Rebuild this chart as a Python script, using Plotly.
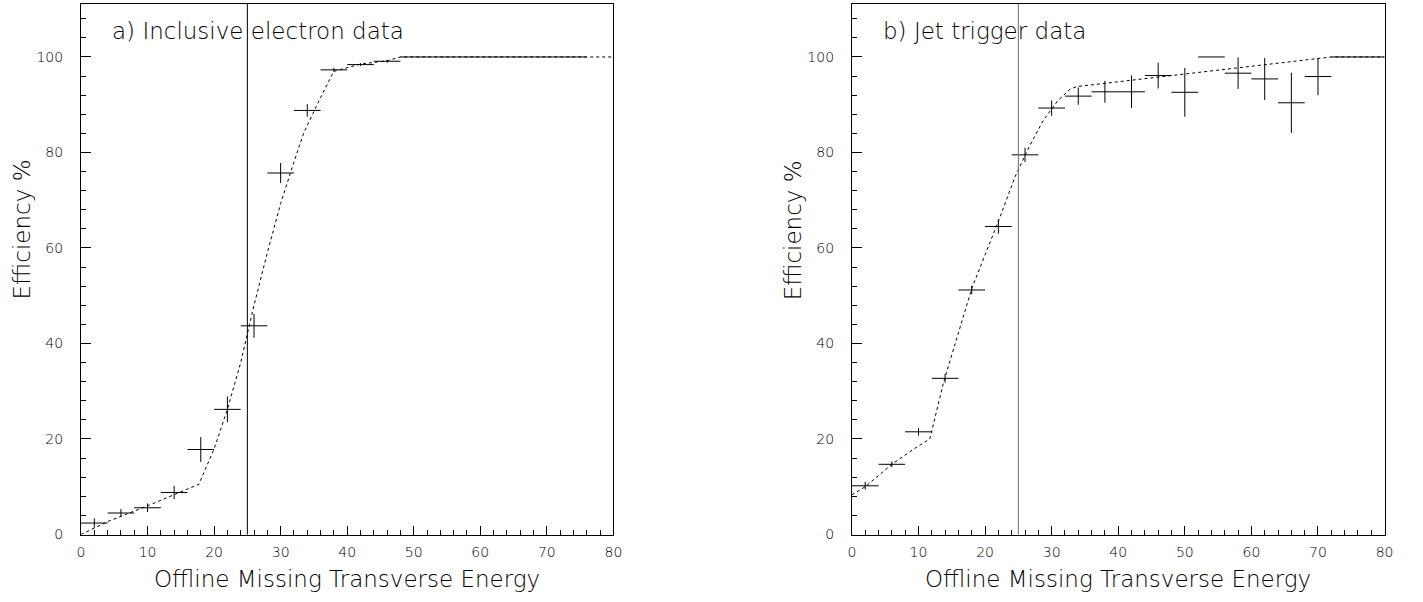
import plotly.graph_objects as go

# ---- data: trigger efficiency vs offline missing ET ----
# (a) inclusive electron sample: bin centres, efficiency (%), stat. error
ele_x = [2, 6, 10, 14, 18, 22, 26, 30, 34, 38, 42, 46, 50, 54, 58, 62, 66, 70, 74]
ele_eff = [2.4, 4.5, 5.6, 8.8, 17.8, 26.2, 43.7, 75.7, 88.8, 97.3, 98.4, 99.1,
           100, 100, 100, 100, 100, 100, 100]
ele_err = [1.0, 0.8, 0.9, 1.4, 2.6, 2.7, 2.5, 2.1, 1.3, 0.4, 0.3, 0.3,
           0, 0, 0, 0, 0, 0, 0]

# (b) jet trigger sample
jet_x = [2, 6, 10, 14, 18, 22, 26, 30, 34, 38, 42, 46, 50, 54, 58, 62, 66, 70, 74, 78]
jet_eff = [10.2, 14.7, 21.5, 32.7, 51.2, 64.5, 79.5, 89.3, 91.8, 92.7, 92.7, 96.1,
           92.6, 100, 96.6, 95.4, 90.4, 95.9, 100, 100]
jet_err = [0.8, 0.6, 0.8, 0.9, 0.9, 1.5, 1.5, 1.6, 1.8, 2.3, 3.4, 2.7,
           5.1, 0, 3.3, 4.4, 6.3, 3.9, 0, 0]

BIN_HALF_WIDTH = 2.0

# parametrised turn-on curves (dashed)
ele_fit_x = [0, 4, 10, 14, 17.7, 20, 22, 24, 26, 28, 30, 32, 33.5, 36, 38, 42, 46, 48, 80]
ele_fit_y = [0, 2.7, 6.0, 8.4, 10.5, 17.9, 26.2, 36, 48, 59, 69.3, 78, 84.2, 91.5,
             97, 98.5, 99.2, 100, 100]
jet_fit_x = [0, 2, 6, 9.5, 11.7, 13.8, 18, 22.2, 24.5, 26.7, 28.7, 30.9, 32.8, 33.8, 72, 80]
jet_fit_y = [8.3, 10, 14.7, 18.1, 20, 32, 51.5, 66.3, 74.9, 81.4, 86.6, 90.8, 93.3,
             93.8, 100, 100]

THRESHOLD = 25  # offline missing ET cut

panel_labels = ["a) Inclusive electron data", "b) Jet trigger data"]
x_title = "Offline Missing Transverse Energy"
y_title = "Efficiency %"
x_ticks = list(range(0, 81, 10))
y_ticks = list(range(0, 101, 20))

# ---- layout geometry (pixels) ----
W, H = 1423, 602
FONT = "DejaVu Sans, sans-serif"
TEXT_WEIGHT = 200

panels = [
    dict(x0=77.7, x1=615.0, xs=ele_x, ys=ele_eff, es=ele_err,
         fx=ele_fit_x, fy=ele_fit_y, label=panel_labels[0], cut_color="black"),
    dict(x0=855.7, x1=1393.3, xs=jet_x, ys=jet_eff, es=jet_err,
         fx=jet_fit_x, fy=jet_fit_y, label=panel_labels[1], cut_color="#707070"),
]
Y_TOP, Y_BOT = 4.0, 541.7

title_font = dict(family=FONT, size=23, color="black", weight=TEXT_WEIGHT)
tick_font = dict(family=FONT, size=14, color="black", weight=TEXT_WEIGHT)

fig = go.Figure()
annotations = []
shapes = []

for i, p in enumerate(panels):
    xa = "x" if i == 0 else "x2"
    ya = "y" if i == 0 else "y2"
    # data points with error crosses
    fig.add_trace(go.Scatter(
        x=p["xs"], y=p["ys"], xaxis=xa, yaxis=ya, mode="markers",
        marker=dict(size=1, color="rgba(0,0,0,0)"),
        error_x=dict(type="constant", value=BIN_HALF_WIDTH, width=0,
                     thickness=1, color="black"),
        error_y=dict(type="data", array=p["es"], width=0, thickness=1,
                     color="black"),
        showlegend=False, hoverinfo="skip"))
    # fitted curve
    fig.add_trace(go.Scatter(
        x=p["fx"], y=p["fy"], xaxis=xa, yaxis=ya, mode="lines",
        line=dict(color="black", width=1, dash="3px,3px"),
        showlegend=False, hoverinfo="skip"))
    # threshold line
    shapes.append(dict(type="line", xref=xa, yref=f"{ya} domain",
                       x0=THRESHOLD, x1=THRESHOLD, y0=0, y1=1,
                       line=dict(color=p["cut_color"], width=1)))
    # panel label
    annotations.append(dict(text=p["label"], xref="paper", yref="paper",
                            x=(p["x0"] + 29) / W, y=1 - 31 / H,
                            xanchor="left", yanchor="middle", showarrow=False,
                            font=title_font))
    # axis titles
    annotations.append(dict(text=x_title, xref="paper", yref="paper",
                            x=(p["x0"] + p["x1"]) / 2 / W, y=1 - 587 / H,
                            xanchor="center", yanchor="middle", showarrow=False,
                            font=title_font))
    annotations.append(dict(text=y_title, xref="paper", yref="paper",
                            x=(p["x0"] - 60) / W, y=1 - 233 / H, textangle=-90,
                            xanchor="center", yanchor="middle", showarrow=False,
                            font=title_font))

def xaxis(p):
    return dict(domain=[p["x0"] / W, p["x1"] / W], range=[0, 80],
                tickvals=x_ticks, ticks="inside", ticklen=9, tickwidth=1,
                tickcolor="black",
                minor=dict(dtick=2, tick0=0, ticks="inside", ticklen=5,
                           tickwidth=1, tickcolor="black", showgrid=False),
                showline=True, linecolor="black", linewidth=1, mirror=True,
                showgrid=False, zeroline=False, ticklabelstandoff=5,
                tickfont=tick_font)

def yaxis():
    return dict(domain=[1 - Y_BOT / H, 1 - Y_TOP / H], range=[0, 111.1],
                tickvals=y_ticks, ticks="inside", ticklen=10, tickwidth=1,
                tickcolor="black",
                minor=dict(dtick=4, tick0=0, ticks="inside", ticklen=5,
                           tickwidth=1, tickcolor="black", showgrid=False),
                showline=True, linecolor="black", linewidth=1, mirror=True,
                showgrid=False, zeroline=False, ticklabelstandoff=14,
                tickfont=tick_font)

y2 = yaxis()
y2["anchor"] = "x2"
x2 = xaxis(panels[1])
x2["anchor"] = "y2"

fig.update_layout(
    width=W, height=H, margin=dict(l=0, r=0, t=0, b=0),
    paper_bgcolor="white", plot_bgcolor="white",
    xaxis=dict(xaxis(panels[0]), anchor="y"),
    yaxis=dict(yaxis(), anchor="x"),
    xaxis2=x2, yaxis2=y2,
    shapes=shapes, annotations=annotations,
)

fig.write_html("out.html")
